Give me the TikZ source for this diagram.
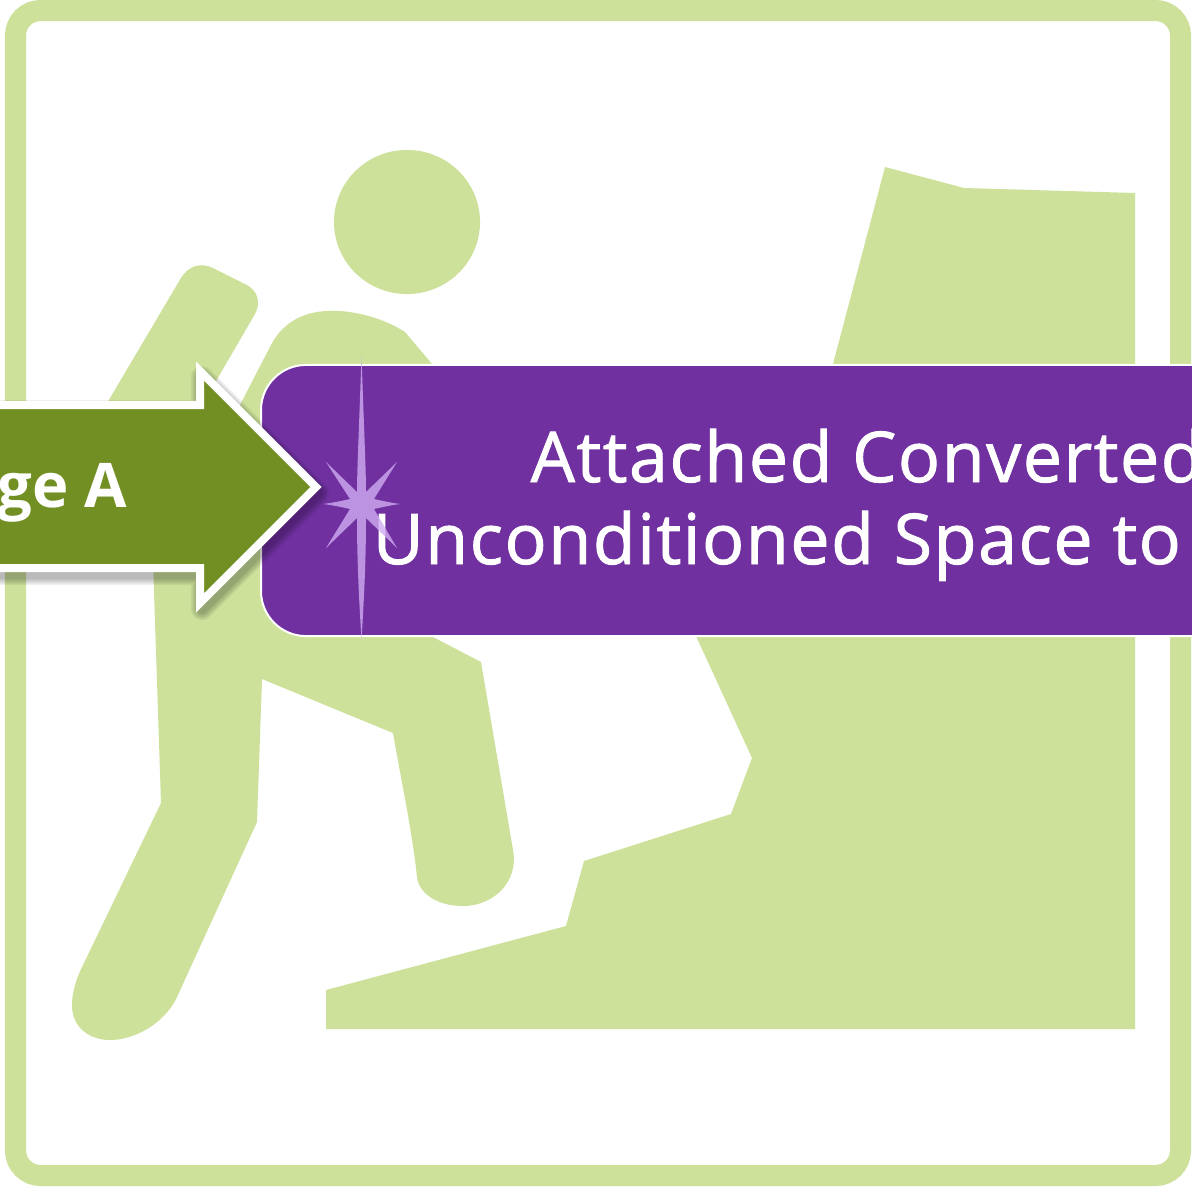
\documentclass[tikz,border=0pt]{standalone}
\usepackage{fontspec}
\setmainfont{Open Sans}
\newfontfamily\ttlfont[LetterSpace=2.2,FakeBold=1.3]{Open Sans}
\usepackage{xcolor}
\definecolor{hkgreen}{HTML}{CDE19B}
\definecolor{hkolive}{HTML}{728F23}
\definecolor{hkpurple}{HTML}{7030A0}
\definecolor{hkstar}{HTML}{CFACF0}
\begin{document}
\begin{tikzpicture}[x=0.01cm, y=-0.01cm,
        sil/.style={fill=hkgreen, draw=none},
        ttl/.style={text=white, font=\ttlfont\fontsize{19.9pt}{24pt}\selectfont, anchor=base west, inner sep=0pt}]
      \useasboundingbox (0,0) rectangle (1192,1188);
      \clip (0,0) rectangle (1192,1188);
      \fill[white] (0,0) rectangle (1192,1188);
      % frame
      \draw[hkgreen, line width=0.21cm, rounded corners=0.25cm] (15.5,10.5) rectangle (1180.5,1175.5);
      % cliff
      \fill[sil] (885,167)--(964,188)--(1135,193)--(1135,1029)--(326,1029)--(326,990)--(566,926)--(584,861)--(731,814)--(752,758)--(696,636)--(833,364)--cycle;
      % climber
      \fill[sil] (407,222) ellipse [x radius=0.73cm, y radius=0.72cm];
      \fill[sil] (100,415)--(181,278) .. controls (188,266) and (201,262) .. (213,268)--(247,285) .. controls (258,291) and (261,303) .. (255,314)--(205,400)--(205,420)--cycle;
      \fill[sil] (240,405)--(272,343) .. controls (290,312) and (320,310) .. (340,311) .. controls (365,313) and (388,321) .. (405,332)--(432,364)--(433,637)--(481,662)--(513,850) .. controls (519,880) and (495,906) .. (463,906) .. controls (438,906) and (419,894) .. (417,877) .. controls (412,830) and (402,785) .. (393,733)--(262,679)--(257,822)--(177,997) .. controls (165,1023) and (135,1040) .. (110,1040) .. controls (90,1040) and (72,1028) .. (72,1005) .. controls (72,992) and (76,979) .. (84,963)--(161,803)--(151,500)--cycle;
      % title box
      \node[draw=white, line width=0.02cm, fill=hkpurple, rounded corners=0.45cm, minimum width=10cm, minimum height=2.71cm, anchor=west, inner sep=0pt] (box) at (260,500.5) {};
      \node[ttl] (line1) at (530,482) {Attached Converted};
      \node[ttl] (line2) at (372,564) {Unconditioned Space to};
      % sparkle
      \fill[hkstar, opacity=0.8] (361.5,355) .. controls (364,430) and (366,470) .. (366,492)--(397,462)--(374,499) .. controls (383,501) and (392,503) .. (400,504) .. controls (392,505) and (383,507) .. (374,509)--(397,548)--(366,518) .. controls (366,560) and (364,600) .. (361.5,640) .. controls (359,600) and (357,560) .. (357,518)--(326,548)--(350,509) .. controls (341,507) and (332,505) .. (323,504) .. controls (332,503) and (341,501) .. (350,499)--(326,462)--(357,492) .. controls (357,470) and (359,430) .. (361.5,355)--cycle;
      % stage arrow, soft shadow first
      \foreach \w in {14,11,8,5,2}
        \draw[black, opacity=0.06, line width=\w*0.01cm+0.08cm, line join=round, shift={(2,6)}] (-20,405)--(200,405)--(200,371)--(316,487)--(200,603)--(200,568)--(-20,568)--cycle;
      \draw[white, fill=hkolive, line width=0.08cm, miter limit=3] (-20,405)--(200,405)--(200,371)--(316,487)--(200,603)--(200,568)--(-20,568)--cycle;
      \node[text=white, font=\fontsize{17.5pt}{20pt}\selectfont\bfseries, anchor=base east, inner sep=0pt] (stage) at (128,507) {ge A};
    \end{tikzpicture}
\end{document}
